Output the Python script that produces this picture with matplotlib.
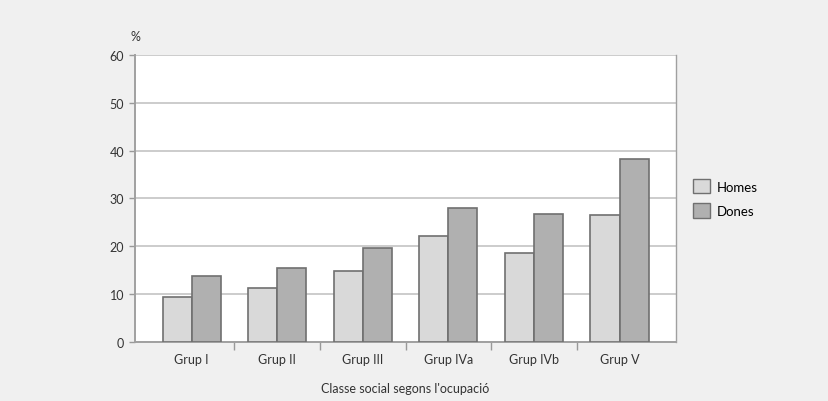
import numpy as np
import matplotlib.pyplot as plt
from matplotlib.patches import Patch

# Dades llegides del gràfic
grups = ['Grup I', 'Grup II', 'Grup III', 'Grup IVa', 'Grup IVb', 'Grup V']
homes = [9.3, 11.2, 14.8, 22.2, 18.5, 26.6]
dones = [13.8, 15.4, 19.6, 28.0, 26.8, 38.3]

plt.rcParams['font.family'] = ['Lato', 'DejaVu Sans']

fig = plt.figure(figsize=(8.29, 4.02), dpi=100, facecolor='#f0f0f0')
ax = fig.add_axes([0.163, 0.147, 0.6525, 0.714])
ax.set_facecolor('white')

x = np.arange(len(grups))
w = 0.34
ax.bar(x - w / 2, homes, w, color='#d9d9d9', edgecolor='#707070', linewidth=1.2, label='Homes', zorder=3)
ax.bar(x + w / 2, dones, w, color='#b0b0b0', edgecolor='#707070', linewidth=1.2, label='Dones', zorder=3)

ax.set_ylim(0, 60)
ax.set_xlim(-0.66, len(grups) - 0.34)
ax.set_yticks(range(0, 61, 10))
ax.yaxis.grid(True, color='#c4c4c4', linewidth=1.2, zorder=0)

# etiquetes centrades, marques entre categories
ax.set_xticks(x)
ax.set_xticklabels(grups, fontsize=9, color='#333333')
ax.set_xticks(np.arange(0.5, len(grups) - 1, 1), minor=True)
ax.tick_params(axis='x', which='major', length=0, pad=8)
ax.tick_params(axis='x', which='minor', length=6, color='#999999', width=1)
ax.tick_params(axis='y', length=4, color='#999999', width=1, labelsize=9, labelcolor='#333333', pad=4)

for s in ['left', 'bottom', 'right']:
    ax.spines[s].set_color('#a0a0a0')
    ax.spines[s].set_linewidth(1.4)
ax.spines['right'].set_linewidth(1)
ax.spines['top'].set_visible(False)

ax.set_xlabel("Classe social segons l'ocupació", fontsize=9, color='#333333', labelpad=12)
ax.text(0.0, 1.045, '%', transform=ax.transAxes, fontsize=9, color='#333333', ha='center', va='bottom')

handles = [Patch(facecolor='#d9d9d9', edgecolor='#707070', label='Homes'),
           Patch(facecolor='#b0b0b0', edgecolor='#707070', label='Dones')]
ax.legend(handles=handles, loc='center left', bbox_to_anchor=(1.01, 0.5), frameon=False,
          fontsize=9.5, handlelength=1.3, handleheight=1.3, handletextpad=0.5, labelspacing=0.75)

fig.savefig('out.png', dpi=100, facecolor=fig.get_facecolor())
